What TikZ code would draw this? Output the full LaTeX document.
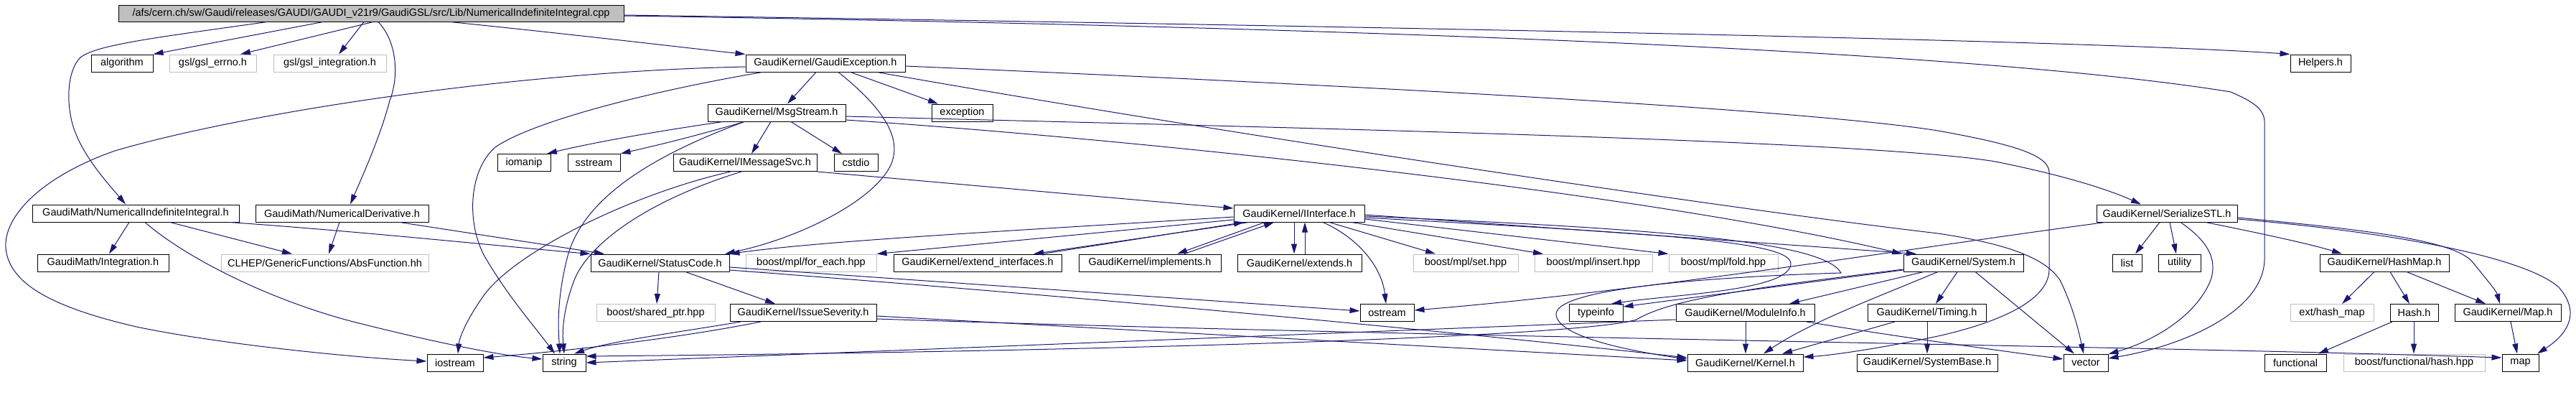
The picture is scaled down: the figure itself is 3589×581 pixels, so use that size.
\documentclass[tikz,border=0pt]{standalone}
\usepackage{fontspec}
\setmainfont{Liberation Sans}
\usetikzlibrary{arrows.meta}
\definecolor{edgec}{HTML}{191970}
\definecolor{gbox}{HTML}{BFBFBF}
\begin{document}
\begin{tikzpicture}[x=1pt,y=-1pt,
  box/.style={draw=black,line width=1pt,inner sep=0pt,minimum height=24pt,font=\fontsize{14.5}{17}\selectfont},
  gray box/.style={box,draw=gbox},
  e/.style={draw=edgec,line width=1pt,-{Triangle[length=14pt,width=8pt]}}]
\useasboundingbox[fill=white] (0,0) rectangle (3589,581);
% row 1
\node[box,fill=gbox,minimum width=704pt,minimum height=23pt] (root) at (517,18.5) {/afs/cern.ch/sw/Gaudi/releases/GAUDI/GAUDI\_v21r9/GaudiGSL/src/Lib/NumericalIndefiniteIntegral.cpp};
% row 2
\node[box,minimum width=86pt] (algorithm) at (170,88) {algorithm};
\node[gray box,minimum width=121pt] (gslerrno) at (296.5,88) {gsl/gsl\_errno.h};
\node[gray box,minimum width=157pt] (gslint) at (459.5,88) {gsl/gsl\_integration.h};
\node[box,minimum width=222pt] (gexc) at (1150,88) {GaudiKernel/GaudiException.h};
\node[box,minimum width=84pt] (helpers) at (3233,88) {Helpers.h};
% row 3
\node[box,minimum width=192pt] (msg) at (1082,157) {GaudiKernel/MsgStream.h};
\node[box,minimum width=85pt] (exception) at (1340.5,157) {exception};
% row 4
\node[box,minimum width=74pt] (iomanip) at (730,226.5) {iomanip};
\node[box,minimum width=73pt] (sstream) at (827.5,226.5) {sstream};
\node[box,minimum width=200pt] (imsg) at (1038,226.5) {GaudiKernel/IMessageSvc.h};
\node[box,minimum width=61pt] (cstdio) at (1192.5,226.5) {cstdio};
% row 5
\node[box,minimum width=288pt] (numind) at (189,297) {GaudiMath/NumericalIndefiniteIntegral.h};
\node[box,minimum width=241pt] (numder) at (476.5,297) {GaudiMath/NumericalDerivative.h};
\node[box,minimum width=182pt] (iint) at (1810,297) {GaudiKernel/IInterface.h};
\node[box,minimum width=196pt] (sstl) at (3019,297) {GaudiKernel/SerializeSTL.h};
% row 6
\node[box,minimum width=183pt] (integ) at (143.5,366) {GaudiMath/Integration.h};
\node[gray box,minimum width=289pt] (absf) at (452.5,366) {CLHEP/GenericFunctions/AbsFunction.hh};
\node[box,minimum width=193pt] (sc) at (919.5,366) {GaudiKernel/StatusCode.h};
\node[gray box,minimum width=182pt] (foreach) at (1130,366) {boost/mpl/for\_each.hpp};
\node[box,minimum width=234pt] (extif) at (1362,366) {GaudiKernel/extend\_interfaces.h};
\node[box,minimum width=198pt] (impl) at (1602,366) {GaudiKernel/implements.h};
\node[box,minimum width=173pt] (ext) at (1810.5,366) {GaudiKernel/extends.h};
\node[gray box,minimum width=146pt] (set) at (2042,366) {boost/mpl/set.hpp};
\node[gray box,minimum width=164pt] (insert) at (2220,366) {boost/mpl/insert.hpp};
\node[gray box,minimum width=152pt] (fold) at (2401,366) {boost/mpl/fold.hpp};
\node[box,minimum width=167pt] (sys) at (2735.5,366) {GaudiKernel/System.h};
\node[box,minimum width=41pt] (list) at (2963.5,366) {list};
\node[box,minimum width=59pt] (utility) at (3036.5,366) {utility};
\node[box,minimum width=180pt] (hmap) at (3322,366) {GaudiKernel/HashMap.h};
% row 7
\node[gray box,minimum width=165pt] (shptr) at (913.5,435.5) {boost/shared\_ptr.hpp};
\node[box,minimum width=204pt] (issue) at (1119,435.5) {GaudiKernel/IssueSeverity.h};
\node[box,minimum width=75pt] (ostream) at (1932.5,435.5) {ostream};
\node[box,minimum width=75pt] (typeinfo) at (2223.5,435.5) {typeinfo};
\node[box,minimum width=193pt] (modinfo) at (2431.5,435.5) {GaudiKernel/ModuleInfo.h};
\node[box,minimum width=165pt] (timing) at (2684.5,435.5) {GaudiKernel/Timing.h};
\node[gray box,minimum width=116pt] (exthm) at (3249,435.5) {ext/hash\_map};
\node[box,minimum width=67pt] (hash) at (3363.5,435.5) {Hash.h};
\node[box,minimum width=148pt] (maph) at (3494,435.5) {GaudiKernel/Map.h};
% row 8
\node[box,minimum width=78pt] (iostream) at (634,505) {iostream};
\node[box,minimum width=60pt] (string) at (786,505) {string};
\node[box,minimum width=161pt] (kernel) at (2431.5,505) {GaudiKernel/Kernel.h};
\node[box,minimum width=196pt] (sysbase) at (2685,505) {GaudiKernel/SystemBase.h};
\node[box,minimum width=62pt] (vector) at (2906,505) {vector};
\node[box,minimum width=86pt] (functional) at (3198,505) {functional};
\node[gray box,minimum width=197pt] (bfhash) at (3363.5,505) {boost/functional/hash.hpp};
\node[box,minimum width=51pt] (map) at (3511.5,505) {map};

% ---------- root
\draw[e] (root.south -| 450,0) -- (algorithm.north east);
\draw[e] (root.south -| 520,0) -- (gslerrno.north -| 335,0);
\draw[e] (root.south -| 507,0) -- (gslint.north -| 472,0);
\draw[e] (root.south -| 372,0) .. controls (220,52) and (135,62) .. (112,80) .. controls (92,100) and (92,150) .. (104,182) .. controls (118,220) and (150,255) .. (numind.north -| 175,0);
\draw[e] (root.south -| 527,0) .. controls (555,60) and (555,110) .. (543,140) .. controls (530,190) and (505,245) .. (numder.north -| 488,0);
\draw[e] (root.south -| 627,0) .. controls (800,48) and (950,66) .. (gexc.north west);
\draw[e] (root.east |- 0,21) .. controls (1800,35) and (2900,55) .. (helpers.north west);
\draw[e] (root.east |- 0,22) .. controls (1900,38) and (2750,70) .. (3108,128) .. controls (3135,140) and (3155,150) .. (3155,170) -- (3155,360) .. controls (3155,430) and (3050,480) .. (vector.east |- 0,499);
% ---------- GaudiException
\draw[e] (gexc.south -| 1137,0) -- (msg.north -| 1097,0);
\draw[e] (gexc.south -| 1185,0) -- (exception.north -| 1307,0);
\draw[e] (gexc.south -| 1168,0) .. controls (1230,150) and (1255,190) .. (1243,225) .. controls (1225,275) and (1120,330) .. (sc.north -| 1010,0);
\draw[e] (gexc.south -| 1062,0) .. controls (900,128) and (740,170) .. (690,205) .. controls (650,240) and (650,320) .. (680,365) .. controls (710,415) and (745,455) .. (string.north -| 773,0);
\draw[e] (gexc.west |- 0,93) .. controls (700,100) and (330,160) .. (160,210) .. controls (60,245) and (5,300) .. (8,345) .. controls (12,390) and (60,425) .. (190,455) .. controls (300,478) and (480,497) .. (iostream.west |- 0,503);
\draw[e] (gexc.east |- 0,92) .. controls (1800,115) and (2500,150) .. (2700,182) .. controls (2800,200) and (2855,215) .. (2855,240) -- (2855,375) .. controls (2855,420) and (2780,450) .. (2700,468) .. controls (2620,485) and (2550,495) .. (kernel.east |- 0,497);
\draw[e] (gexc.south -| 1222,0) .. controls (1700,185) and (2400,290) .. (2700,325) .. controls (2800,340) and (2850,360) .. (2870,390) .. controls (2890,430) and (2898,470) .. (vector.north -| 2903,0);
% ---------- MsgStream
\draw[e] (msg.east |- 0,167) .. controls (1600,195) and (2300,270) .. (sys.north -| 2650,0);
\draw[e] (msg.east |- 0,162) .. controls (1800,178) and (2600,195) .. (2780,225) .. controls (2880,245) and (2940,265) .. (sstl.north -| 2983,0);
\draw[e] (msg.south -| 1074,0) -- (imsg.north -| 1047,0);
\draw[e] (msg.south -| 1102,0) -- (cstdio.north -| 1173,0);
\draw[e] (msg.south -| 1007,0) .. controls (900,185) and (820,200) .. (iomanip.north -| 762,0);
\draw[e] (msg.south -| 1037,0) .. controls (950,195) and (890,208) .. (sstream.north east);
\draw[e] (msg.south -| 1037,0) .. controls (900,220) and (810,280) .. (790,360) .. controls (775,420) and (778,460) .. (string.north -| 780,0);
% ---------- IMessageSvc
\draw[e] (imsg.east |- 0,239) .. controls (1400,262) and (1600,280) .. (iint.west |- 0,290);
\draw[e] (imsg.south -| 1018,0) .. controls (880,270) and (720,350) .. (675,410) .. controls (650,445) and (640,470) .. (iostream.north -| 638,0);
\draw[e] (imsg.south -| 1033,0) .. controls (900,280) and (820,340) .. (800,390) .. controls (785,430) and (783,460) .. (string.north -| 786,0);
% ---------- GaudiMath
\draw[e] (numind.south -| 180,0) -- (integ.north -| 152,0);
\draw[e] (numind.south -| 237,0) -- (absf.north -| 407,0);
\draw[e] (numind.south -| 320,0) .. controls (500,322) and (700,343) .. (sc.north west);
\draw[e] (numind.south -| 202,0) .. controls (260,360) and (380,420) .. (500,450) .. controls (620,480) and (700,495) .. (string.west |- 0,500);
\draw[e] (numder.south -| 473,0) -- (absf.north -| 458,0);
\draw[e] (numder.south -| 557,0) -- (sc.north -| 842,0);
% ---------- StatusCode / IssueSeverity
\draw[e] (sc.south -| 918,0) -- (shptr.north -| 915,0);
\draw[e] (sc.south -| 955,0) -- (issue.north -| 1080,0);
\draw[e] (sc.east |- 0,376) .. controls (1600,420) and (2100,470) .. (kernel.west |- 0,498);
\draw[e] (sc.east |- 0,372) -- (ostream.west |- 0,433);
\draw[e] (issue.east |- 0,440) -- (kernel.west |- 0,502);
\draw[e] (issue.east |- 0,444) .. controls (2000,470) and (3000,482) .. (map.west |- 0,498);
\draw[e] (issue.south -| 1032,0) .. controls (950,462) and (850,475) .. (string.north -| 800,0);
\draw[e] (issue.south -| 1060,0) .. controls (950,470) and (800,488) .. (iostream.east |- 0,498);
% ---------- IInterface
\draw[e] (iint.west |- 0,302) .. controls (1400,322) and (1150,335) .. (sc.north east);
\draw[e] (iint.west |- 0,306) -- (foreach.north east);
\draw[e] (iint.south -| 1740,0) -- (extif.north -| 1440,0);
\draw[e] (extif.north -| 1452,0) -- (iint.south -| 1733,0);
\draw[e] (iint.south -| 1762,0) -- (impl.north -| 1640,0);
\draw[e] (impl.north -| 1650,0) -- (iint.south -| 1775,0);
\draw[e] (iint.south -| 1803,0) -- (ext.north -| 1803,0);
\draw[e] (ext.north -| 1818,0) -- (iint.south -| 1818,0);
\draw[e] (iint.south -| 1843,0) .. controls (1890,330) and (1925,370) .. (ostream.north -| 1931,0);
\draw[e] (iint.south -| 1852,0) -- (set.north -| 2000,0);
\draw[e] (iint.south -| 1883,0) -- (insert.north -| 2150,0);
\draw[e] (iint.east |- 0,305) -- (fold.north west);
\draw[e] (iint.east |- 0,299) -- (sys.north -| 2670,0);
\draw[e] (iint.east |- 0,303) .. controls (2300,325) and (2495,335) .. (2495,367) .. controls (2495,405) and (2330,410) .. (typeinfo.north -| 2245,0);
\draw[e] (iint.east |- 0,301) .. controls (2300,318) and (2540,335) .. (2565,380) .. controls (2400,385) and (2170,400) .. (2168,437) .. controls (2168,470) and (2280,490) .. (kernel.west |- 0,500);
% ---------- System
\draw[e] (sys.west |- 0,376) -- (typeinfo.east |- 0,427);
\draw[e] (sys.south -| 2680,0) -- (modinfo.north -| 2493,0);
\draw[e] (sys.south -| 2727,0) -- (timing.north -| 2697,0);
\draw[e] (sys.south -| 2752,0) -- (vector.north -| 2890,0);
\draw[e] (sys.south -| 2700,0) .. controls (2600,420) and (2520,450) .. (kernel.north -| 2457,0);
\draw[e] (sys.west |- 0,375) .. controls (2450,400) and (2330,415) .. (2280,445) .. controls (2200,470) and (1500,490) .. (string.east |- 0,496);
\draw[e] (modinfo.south -| 2432,0) -- (kernel.north -| 2432,0);
\draw[e] (modinfo.west |- 0,445) -- (string.east |- 0,505);
\draw[e] (modinfo.south -| 2517,0) .. controls (2650,470) and (2800,490) .. (vector.west |- 0,500);
\draw[e] (timing.south -| 2640,0) -- (kernel.north -| 2483,0);
\draw[e] (timing.south -| 2685,0) -- (sysbase.north -| 2685,0);
% ---------- SerializeSTL
\draw[e] (sstl.south -| 3009,0) -- (list.north -| 2975,0);
\draw[e] (sstl.south -| 3023,0) -- (utility.north -| 3032,0);
\draw[e] (sstl.south -| 3038,0) .. controls (3075,335) and (3090,360) .. (3080,390) .. controls (3060,440) and (3000,475) .. (vector.east |- 0,493);
\draw[e] (sstl.south -| 3073,0) .. controls (3150,325) and (3220,340) .. (hmap.north -| 3263,0);
\draw[e] (sstl.east |- 0,303) .. controls (3300,320) and (3420,335) .. (3445,365) .. controls (3465,390) and (3478,405) .. (maph.north -| 3483,0);
\draw[e] (sstl.east |- 0,305) .. controls (3350,325) and (3520,360) .. (3565,400) .. controls (3600,440) and (3570,470) .. (map.north -| 3535,0);
\draw[e] (sstl.south -| 2933,0) .. controls (2700,340) and (2300,405) .. (ostream.east |- 0,432);
% ---------- HashMap etc
\draw[e] (hmap.south -| 3308,0) -- (exthm.north -| 3263,0);
\draw[e] (hmap.south -| 3330,0) -- (hash.north -| 3357,0);
\draw[e] (hmap.south -| 3353,0) -- (maph.north -| 3463,0);
\draw[e] (hash.south -| 3333,0) -- (functional.north -| 3230,0);
\draw[e] (hash.south -| 3363,0) -- (bfhash.north -| 3363,0);
\draw[e] (maph.south -| 3498,0) -- (map.north -| 3507,0);
\end{tikzpicture}
\end{document}
